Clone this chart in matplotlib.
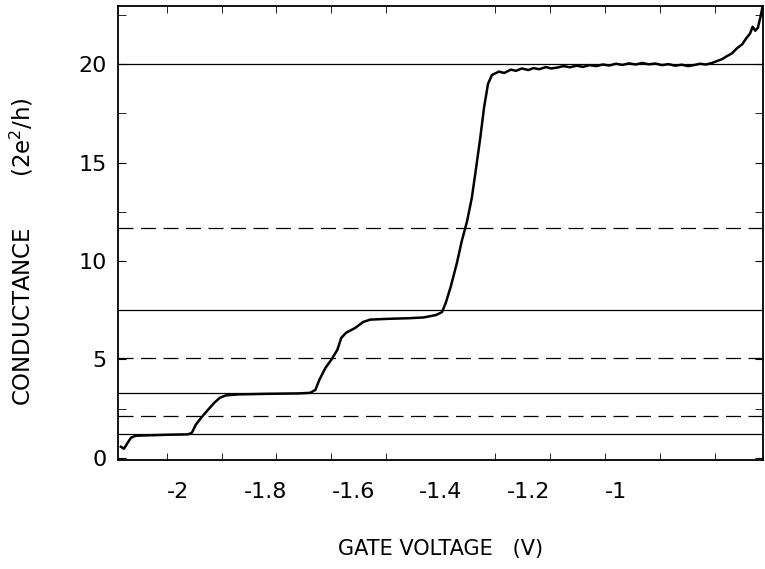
import matplotlib
matplotlib.use("Agg")
import matplotlib.pyplot as plt

# gate voltage (V) and conductance (2e^2/h)
gate_v = [-2.130, -2.123, -2.116, -2.107, -2.096, -2.069, -2.023, -1.977, -1.968,
          -1.959, -1.945, -1.931, -1.917, -1.904, -1.890, -1.863, -1.794, -1.725,
          -1.698, -1.686, -1.677, -1.663, -1.650, -1.636, -1.627, -1.616, -1.595,
          -1.577, -1.561, -1.519, -1.473, -1.439, -1.411, -1.397,
          -1.388, -1.377, -1.363, -1.352, -1.340, -1.329, -1.320, -1.310, -1.301,
          -1.292, -1.283, -1.267, -1.255, -1.240, -1.228, -1.215, -1.200, -1.188,
          -1.175, -1.160, -1.148, -1.135, -1.120, -1.105, -1.090, -1.075, -1.060,
          -1.045, -1.030, -1.015, -1.000, -0.985, -0.970, -0.955, -0.940, -0.925,
          -0.910, -0.895, -0.880, -0.865, -0.850, -0.835, -0.820, -0.808, -0.795,
          -0.782, -0.770, -0.758, -0.747, -0.735, -0.724, -0.712, -0.703, -0.694,
          -0.688, -0.682, -0.676, -0.670, -0.666]
conductance = [0.56, 0.46, 0.71, 1.02, 1.12, 1.14, 1.17, 1.19, 1.27,
               1.68, 2.08, 2.44, 2.79, 3.05, 3.17, 3.22, 3.25, 3.27,
               3.30, 3.45, 3.96, 4.57, 4.97, 5.48, 6.09, 6.35, 6.60,
               6.90, 7.02, 7.06, 7.09, 7.13, 7.25, 7.40,
               7.90, 8.70, 9.90, 11.00, 12.00, 13.20, 14.60, 16.20, 17.80,
               19.00, 19.45, 19.62, 19.55, 19.72, 19.66, 19.78, 19.70, 19.80,
               19.74, 19.85, 19.78, 19.82, 19.90, 19.84, 19.92, 19.86, 19.95,
               19.90, 19.98, 19.93, 20.02, 19.96, 20.04, 19.98, 20.06, 19.99,
               20.03, 19.95, 20.00, 19.92, 19.97, 19.90, 19.96, 20.02, 19.98,
               20.05, 20.15, 20.25, 20.40, 20.55, 20.80, 21.00, 21.30, 21.55,
               21.90, 21.70, 21.85, 22.40, 22.85]

solid_levels = [1.22, 3.30, 7.50, 20.0]
dashed_levels = [2.12, 5.05, 11.65]

xtick_vals = [-2.0, -1.8, -1.6, -1.4, -1.2, -1.0]
xtick_labels = ['-2', '-1.8', '-1.6', '-1.4', '-1.2', '-1']
ytick_vals = [0, 5, 10, 15, 20]
ytick_labels = ['0', '5', '10', '15', '20']
xminor_vals = [-2.025, -1.900, -1.775, -1.650, -1.525, -1.400, -1.275,
               -1.150, -1.025, -0.900, -0.775]
yminor_vals = [2.5, 7.5, 12.5, 17.5, 22.5]

plt.rcParams['font.family'] = ['DejaVu Sans']
plt.rcParams['mathtext.default'] = 'regular'

fig = plt.figure(figsize=(7.65, 5.69), dpi=100)
ax = fig.add_axes([0.154, 0.192, 0.843, 0.797])

for lv in solid_levels:
    ax.axhline(lv, color='black', lw=0.9)
for lv in dashed_levels:
    ax.axhline(lv, color='black', lw=0.9, dashes=(12, 6))

ax.plot(gate_v, conductance, color='black', lw=1.8)

ax.set_xlim(-2.137, -0.665)
ax.set_ylim(-0.1, 22.94)

ax.set_xticks(xtick_vals, xtick_labels)
ax.set_xticks(xminor_vals, minor=True)
ax.set_yticks(ytick_vals, ytick_labels)
ax.set_yticks(yminor_vals, minor=True)
ax.tick_params(axis='x', which='major', length=0, pad=16, labelsize=16)
ax.tick_params(axis='x', which='minor', direction='in', length=5, top=True)
ax.tick_params(axis='y', which='major', direction='in', length=6, right=True,
               labelsize=16, pad=8)
ax.tick_params(axis='y', which='minor', direction='in', length=6, right=True)

for sp in ax.spines.values():
    sp.set_linewidth(1.3)

ax.set_xlabel('GATE VOLTAGE   (V)', fontsize=15)
ax.xaxis.set_label_coords(0.5, -0.175)
ax.set_ylabel('CONDUCTANCE       (2e$^2$/h)', fontsize=16.5)
ax.yaxis.set_label_coords(-0.128, 0.46)

fig.savefig('out.png', dpi=100)
